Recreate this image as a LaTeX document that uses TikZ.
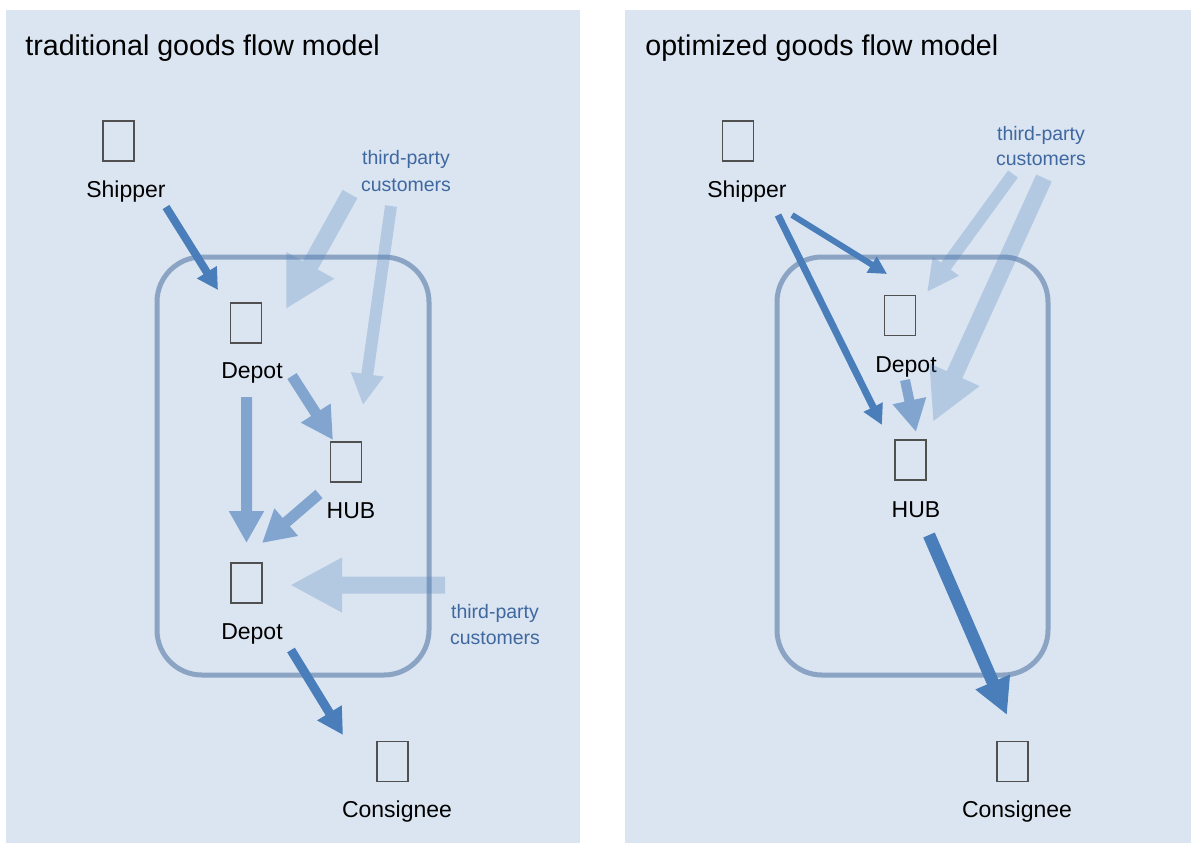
\documentclass[tikz,border=0pt]{standalone}
\usepackage{fontspec}
\setmainfont{Liberation Sans}
\usetikzlibrary{arrows.meta}
\definecolor{panel}{HTML}{DBE5F1}
\definecolor{flow}{HTML}{4A7EBB}
\definecolor{boxline}{HTML}{8BA4C3}
\definecolor{tpblue}{HTML}{3F68A0}
\definecolor{iconline}{HTML}{505050}
\newcommand\farrow[6]{%
  \begin{scope}[transparency group, opacity=#1]
    \draw[draw=flow, line width=#2, -{Triangle[width=#3,length=#4]}] (#5) -- (#6);
  \end{scope}}
\begin{document}
\begin{tikzpicture}[x=0.5pt,y=-0.5pt,
  icon/.style={draw=iconline, line width=0.6pt, minimum width=15.5pt, minimum height=20pt, inner sep=0pt},
  lbl/.style={font=\fontsize{11.5}{13}\selectfont, anchor=base, inner sep=0pt},
  tp/.style={font=\fontsize{9.75}{12}\selectfont, text=tpblue, anchor=base, inner sep=0pt},
  ttl/.style={font=\fontsize{14.3}{16}\selectfont, anchor=base west, inner sep=0pt},
  areabox/.style={draw=boxline, line width=2.5pt, rounded corners=22.5pt},
  panelbg/.style={fill=panel, draw=none}]
\useasboundingbox (0,0) rectangle (1191,843);
\fill[white] (0,0) rectangle (1191,843);
% panels
\path[panelbg] (6,10) rectangle (580,843);
\path[panelbg] (625,10) rectangle (1191,843);
\node[ttl] (titleL) at (25,55) {traditional goods flow model};
\node[ttl] (titleR) at (645,55) {optimized goods flow model};
% boxes
\draw[areabox] (157,257) rectangle (429,675);
\draw[areabox] (777,257) rectangle (1048,675);

% ---------- left nodes
\node[icon] (shipL) at (118.5,141) {};
\node[lbl] (shipLt) at (126,197) {Shipper};
\node[icon] (dep1) at (246,323) {};
\node[lbl] (dep1t) at (252,378) {Depot};
\node[icon] (hubL) at (346,462) {};
\node[lbl] (hubLt) at (351,518) {HUB};
\node[icon] (dep2) at (246.5,583) {};
\node[lbl] (dep2t) at (252,639) {Depot};
\node[icon] (consL) at (392.5,761.5) {};
\node[lbl] (consLt) at (397,817) {Consignee};
\node[tp] (tpLa1) at (406,164) {third-party};
\node[tp] (tpLa2) at (406,191) {customers};
\node[tp] (tpLb1) at (495,618) {third-party};
\node[tp] (tpLb2) at (495,644) {customers};

% ---------- right nodes
\node[icon] (shipR) at (738,141) {};
\node[lbl] (shipRt) at (747,197) {Shipper};
\node[icon] (depR) at (900,315.5) {};
\node[lbl] (depRt) at (906,372) {Depot};
\node[icon] (hubR) at (910.5,460) {};
\node[lbl] (hubRt) at (916,517) {HUB};
\node[icon] (consR) at (1012.5,761.5) {};
\node[lbl] (consRt) at (1017,817) {Consignee};
\node[tp] (tpR1) at (1041,140) {third-party};
\node[tp] (tpR2) at (1041,165) {customers};

% ---------- connector end points
\coordinate (shipL-out) at (166,207);   \coordinate (dep1-in) at (218,290);
\coordinate (tpLa-outA) at (350,194);   \coordinate (dep1-inTP) at (286,309);
\coordinate (tpLa-outB) at (391,206);   \coordinate (hubL-inTP) at (363,405);
\coordinate (dep1-outH) at (292,376);   \coordinate (hubL-in) at (333,440);
\coordinate (dep1-outD) at (246.5,397); \coordinate (dep2-inD) at (246.5,543);
\coordinate (hubL-out) at (319,494);    \coordinate (dep2-inH) at (262,543);
\coordinate (tpLb-out) at (445,585);    \coordinate (dep2-inTP) at (290,585);
\coordinate (dep2-out) at (291,650);    \coordinate (consL-in) at (343,735);

\coordinate (shipR-outD) at (792,215);  \coordinate (depR-in) at (887,274);
\coordinate (shipR-outH) at (778,215);  \coordinate (hubR-inS) at (882,425);
\coordinate (depR-out) at (905,380);    \coordinate (hubR-inD) at (916,432);
\coordinate (tpR-outA) at (1013,174);   \coordinate (depR-inTP) at (927,292);
\coordinate (tpR-outB) at (1044,178);   \coordinate (hubR-inTP) at (933,422);
\coordinate (hubR-out) at (929,535);    \coordinate (consR-in) at (1007,715);

% ---------- left arrows
\farrow{0.27}{8.5pt}{25.5pt}{25pt}{tpLa-outA}{dep1-inTP}
\farrow{0.27}{6pt}{15.5pt}{15.5pt}{tpLa-outB}{hubL-inTP}
\farrow{0.27}{8.5pt}{25.5pt}{26pt}{tpLb-out}{dep2-inTP}
\farrow{0.62}{5.5pt}{16.5pt}{16pt}{dep1-outH}{hubL-in}
\farrow{0.62}{5.5pt}{16.5pt}{16pt}{dep1-outD}{dep2-inD}
\farrow{0.62}{5.5pt}{17pt}{16pt}{hubL-out}{dep2-inH}
\farrow{1}{4pt}{11pt}{10.5pt}{shipL-out}{dep1-in}
\farrow{1}{4.5pt}{13.5pt}{13pt}{dep2-out}{consL-in}

% ---------- right arrows
\farrow{0.27}{6pt}{15pt}{16pt}{tpR-outA}{depR-inTP}
\farrow{0.27}{8.5pt}{25.5pt}{26pt}{tpR-outB}{hubR-inTP}
\farrow{0.62}{5pt}{16pt}{16pt}{depR-out}{hubR-inD}
\farrow{1}{3pt}{9pt}{9pt}{shipR-outD}{depR-in}
\farrow{1}{3.5pt}{10pt}{10pt}{shipR-outH}{hubR-inS}
\farrow{1}{6.25pt}{17.5pt}{18pt}{hubR-out}{consR-in}
\end{tikzpicture}
\end{document}
